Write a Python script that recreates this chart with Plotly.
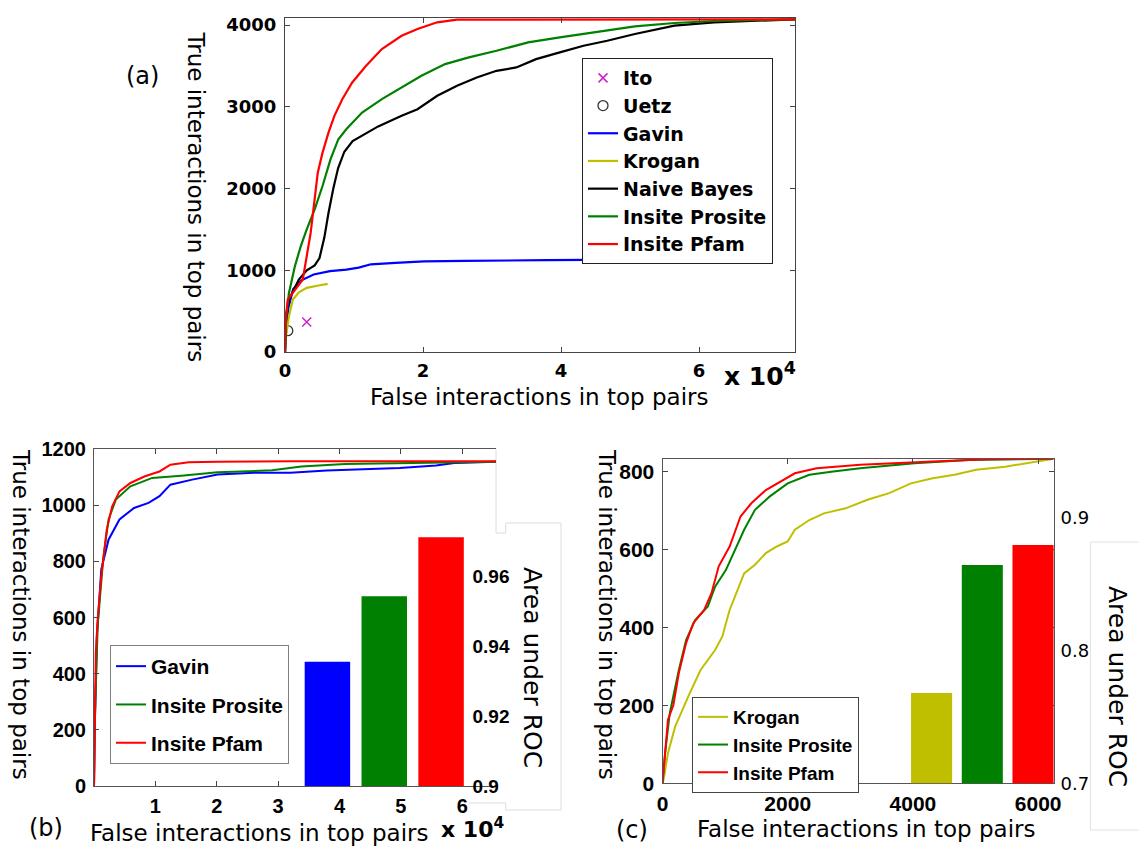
import plotly.graph_objects as go

W, H = 1139, 846

# ---------------- data ----------------
# (a) full gold standard: false vs. true interactions among top-ranked pairs
ito_fp, ito_tp = [3150], [368]
uetz_fp, uetz_tp = [400], [261]

gavin_fp = [0, 119, 474, 1185, 2371, 4150, 6520, 8890, 10670, 12450, 16000, 20150,
            26080, 32000, 37930, 43860, 49800, 55730, 58700, 65500]
gavin_tp = [0, 202, 534, 771, 877, 949, 990, 1008, 1032, 1073, 1091, 1109,
            1115, 1115, 1123, 1127, 1132, 1141, 1150, 1155]

krogan_a_fp = [0, 150, 573, 1146, 2005, 3150, 4870, 6190]
krogan_a_tp = [0, 200, 437, 641, 731, 784, 813, 833]

bayes_fp = [0, 172, 573, 2005, 3150, 4300, 5000, 5700, 6300, 7000, 7700, 8600, 9800,
            11500, 13500, 16900, 19200, 22060, 24930, 27790, 30650, 33520, 36380,
            39820, 43260, 46690, 50700, 56430, 62160, 73900]
bayes_tp = [0, 450, 641, 887, 1000, 1060, 1150, 1400, 1700, 2000, 2250, 2450, 2580,
            2660, 2760, 2889, 2970, 3134, 3256, 3358, 3440, 3481, 3583,
            3665, 3747, 3808, 3890, 3992, 4033, 4070]

prosite_a_fp = [0, 172, 573, 1432, 2290, 3150, 4300, 5440, 6590, 7730, 8880, 11170,
                14035, 16900, 19770, 23200, 26640, 30650, 35230, 39820, 44980,
                50700, 56430, 62160, 73900]
prosite_a_tp = [0, 437, 723, 1050, 1295, 1500, 1745, 2031, 2357, 2603, 2725, 2930,
                3093, 3236, 3379, 3522, 3604, 3685, 3787, 3849, 3910,
                3984, 4025, 4049, 4070]

pfam_a_fp = [0, 100, 400, 1430, 2580, 3720, 4300, 4750, 5440, 6300, 7160, 8300, 9740,
             11750, 14035, 16900, 19200, 22060, 24930, 73900]
pfam_a_tp = [0, 400, 641, 764, 887, 1459, 1867, 2194, 2439, 2684, 2889, 3093, 3297,
             3501, 3706, 3869, 3951, 4033, 4065, 4070]

# (b) pairs covered by Gavin
prosite_b_fp = [0, 119, 593, 1482, 2371, 3556, 5930, 9480, 14230, 20150, 29040,
                33790, 40900, 49800, 65500]
prosite_b_tp = [0, 220, 569, 806, 949, 1020, 1067, 1097, 1105, 1117, 1124,
                1138, 1147, 1150, 1155]
pfam_b_fp = [0, 119, 296, 593, 1185, 2075, 2964, 4150, 5930, 8300, 10670, 12450,
             15410, 20150, 32000, 65500]
pfam_b_tp = [0, 237, 474, 593, 747, 913, 996, 1049, 1079, 1103, 1120, 1144,
             1153, 1155, 1156, 1156]

# (c) pairs covered by Krogan
krogan_c_fp = [0, 17, 87, 203, 434, 608, 840, 956, 1072, 1304, 1477, 1651, 1825, 1999,
               2114, 2346, 2578, 2925, 3273, 3620, 3968, 4316, 4664, 5011, 5474,
               5822, 6245]
krogan_c_tp = [0, 9, 77, 146, 231, 291, 342, 377, 445, 539, 561, 591, 608, 621,
               651, 676, 693, 706, 728, 745, 770, 783, 792, 805, 813,
               822, 833]
prosite_c_fp = [0, 41, 116, 261, 377, 521, 724, 840, 1014, 1188, 1304, 1477, 1709,
                1999, 2346, 2694, 3157, 4026, 4895, 6245]
prosite_c_tp = [0, 77, 180, 291, 368, 419, 454, 505, 548, 608, 651, 702, 736,
                770, 792, 800, 809, 822, 830, 833]
pfam_c_fp = [0, 41, 87, 174, 261, 377, 492, 666, 782, 898, 1072, 1246, 1419, 1651,
             1883, 2114, 2462, 3157, 4316, 5185, 6245]
pfam_c_tp = [0, 77, 163, 201, 283, 360, 411, 445, 488, 557, 608, 685, 719, 753,
             775, 796, 809, 818, 826, 832, 833]

# area under ROC
auc_b_names = ["Gavin", "Insite Prosite", "Insite Pfam"]
auc_b = [0.9355, 0.9542, 0.9711]
auc_c_names = ["Krogan", "Insite Prosite", "Insite Pfam"]
auc_c = [0.768, 0.8645, 0.8796]

# tick labels
ticks_a_x = [0, 20000, 40000, 60000]
ticks_a_xtext = ["0", "2", "4", "6"]
ticks_a_y = [0, 1000, 2000, 3000, 4000]
ticks_b_x = [10000, 20000, 30000, 40000, 50000, 60000]
ticks_b_xtext = ["1", "2", "3", "4", "5", "6"]
ticks_b_y = [0, 200, 400, 600, 800, 1000, 1200]
ticks_c_x = [0, 2000, 4000, 6000]
ticks_c_y = [0, 200, 400, 600, 800]
ticks_b_auc = [0.9, 0.92, 0.94, 0.96]
ticks_c_auc = [0.7, 0.8, 0.9]

# ---------------- styling ----------------
BLUE, YELLOW, GREEN, RED, BLACK = "#0000ff", "#bfbf00", "#008000", "#ff0000", "#000000"
MAGENTA = "#cc22cc"
SANS = "DejaVu Sans"
ARIAL = "Liberation Sans"


def px(x):
    return x / W


def py(y):
    return 1 - y / H


fig = go.Figure()


def curve(x, y, name, color, xa, ya, legend, width=2):
    fig.add_trace(go.Scatter(x=x, y=y, mode="lines", name=name,
                             line=dict(color=color, width=width),
                             xaxis=xa, yaxis=ya, legend=legend,
                             legendgroup=legend + name))


# panel (a)
fig.add_trace(go.Scatter(x=ito_fp, y=ito_tp, mode="markers", name="Ito",
                         marker=dict(symbol="x-thin", size=9, line=dict(color=MAGENTA, width=1.5)),
                         xaxis="x", yaxis="y", legend="legend"))
fig.add_trace(go.Scatter(x=uetz_fp, y=uetz_tp, mode="markers", name="Uetz",
                         marker=dict(symbol="circle-open", size=10, color="#333333",
                                     line=dict(width=1.3)),
                         xaxis="x", yaxis="y", legend="legend"))
curve(gavin_fp, gavin_tp, "Gavin", BLUE, "x", "y", "legend", 2.2)
curve(krogan_a_fp, krogan_a_tp, "Krogan", YELLOW, "x", "y", "legend", 2.2)
curve(bayes_fp, bayes_tp, "Naive Bayes", BLACK, "x", "y", "legend", 2.2)
curve(prosite_a_fp, prosite_a_tp, "Insite Prosite", GREEN, "x", "y", "legend", 2.2)
curve(pfam_a_fp, pfam_a_tp, "Insite Pfam", RED, "x", "y", "legend", 2.2)

# panel (b)
curve(gavin_fp, gavin_tp, "Gavin", BLUE, "x2", "y2", "legend2")
curve(prosite_b_fp, prosite_b_tp, "Insite Prosite", GREEN, "x2", "y2", "legend2")
curve(pfam_b_fp, pfam_b_tp, "Insite Pfam", RED, "x2", "y2", "legend2")

# panel (c)
curve(krogan_c_fp, krogan_c_tp, "Krogan", YELLOW, "x3", "y3", "legend3")
curve(prosite_c_fp, prosite_c_tp, "Insite Prosite", GREEN, "x3", "y3", "legend3")
curve(pfam_c_fp, pfam_c_tp, "Insite Pfam", RED, "x3", "y3", "legend3")

# AUC bar insets
fig.add_trace(go.Bar(x=[0, 1, 2], y=auc_b, width=0.8, hovertext=auc_b_names,
                     marker=dict(color=[BLUE, GREEN, RED], line=dict(width=0)),
                     xaxis="x4", yaxis="y4", showlegend=False))
fig.add_trace(go.Bar(x=[0, 1, 2], y=auc_c, width=0.81, hovertext=auc_c_names,
                     marker=dict(color=[YELLOW, GREEN, RED], line=dict(width=0)),
                     xaxis="x5", yaxis="y5", showlegend=False))

AX = dict(showgrid=False, zeroline=False, showline=True, linewidth=1,
          ticks="inside", ticklen=5, tickwidth=1, tickcolor="#444444")

dom_a_x = [px(285), px(795)]
dom_a_y = [py(352), py(18)]
dom_b_x = [px(94), px(496)]
dom_b_y = [py(786), py(449)]
dom_c_x = [px(662.5), px(1053.5)]
dom_c_y = [py(783.3), py(458.7)]

tick_a = dict(family=SANS, size=18, color="black", weight="bold")
tick_b = dict(family=ARIAL, size=20, color="black", weight="bold")
tick_c = dict(family=ARIAL, size=21, color="black", weight="bold")

fig.update_layout(
    width=W, height=H, margin=dict(l=0, r=0, t=0, b=0, pad=0, autoexpand=False),
    paper_bgcolor="white", plot_bgcolor="rgba(0,0,0,0)",
    showlegend=True,
    xaxis=dict(AX, domain=dom_a_x, range=[0, 73900], anchor="y", mirror="ticks",
               linecolor="#444444", tickvals=ticks_a_x, ticktext=ticks_a_xtext,
               tickfont=tick_a, ticklabelstandoff=2),
    yaxis=dict(AX, domain=dom_a_y, range=[0, 4086], anchor="x", mirror="ticks",
               linecolor="#444444", tickvals=ticks_a_y, tickfont=tick_a,
               ticklabelstandoff=4),
    xaxis2=dict(AX, domain=dom_b_x, range=[0, 65500], anchor="y2", mirror="ticks",
                linecolor="#555555", tickvals=ticks_b_x, ticktext=ticks_b_xtext,
                tickfont=tick_b, ticklabelstandoff=2),
    yaxis2=dict(AX, domain=dom_b_y, range=[0, 1200], anchor="x2", mirror=False,
                linecolor="#555555", tickvals=ticks_b_y, tickfont=tick_b,
                ticklabelstandoff=3),
    xaxis3=dict(AX, domain=dom_c_x, range=[0, 6245], anchor="y3", mirror="ticks",
                linecolor="#555555", tickvals=ticks_c_x, tickfont=tick_c,
                ticklabelstandoff=1),
    yaxis3=dict(AX, domain=dom_c_y, range=[0, 833.4], anchor="x3", mirror="ticks",
                linecolor="#555555", tickvals=ticks_c_y, tickfont=tick_c,
                ticklabelstandoff=3),
    xaxis4=dict(domain=[px(299), px(469.5)], range=[-0.5, 2.5], anchor="y4",
                visible=False, fixedrange=True),
    yaxis4=dict(domain=dom_b_y, range=[0.9, 0.9963], anchor="free", position=px(469.5),
                side="right", showgrid=False, zeroline=False, showline=False, ticks="",
                tickvals=ticks_b_auc, ticktext=["0.9", "0.92", "0.94", "0.96"],
                tickfont=dict(family=ARIAL, size=19, color="black", weight="bold"),
                ticklabelstandoff=2),
    xaxis5=dict(domain=[px(906.25), px(1058.35)], range=[-0.5, 2.5], anchor="y5",
                visible=False, fixedrange=True),
    yaxis5=dict(domain=dom_c_y, range=[0.7, 0.9446], anchor="free", position=px(1053.5),
                side="right", showgrid=False, zeroline=False, showline=False, ticks="",
                tickvals=ticks_c_auc, ticktext=["0.7", "0.8", "0.9"],
                tickfont=dict(family=SANS, size=18, color="black"),
                ticklabelstandoff=6),
    legend=dict(x=px(582), y=py(58), xanchor="left", yanchor="top",
                bgcolor="white", bordercolor="#222222", borderwidth=1,
                font=dict(family=SANS, size=19, color="black", weight="bold"),
                itemwidth=30, tracegroupgap=0),
    legend2=dict(x=px(110), y=py(645), xanchor="left", yanchor="top",
                 bgcolor="white", bordercolor="#808080", borderwidth=1,
                 font=dict(family=ARIAL, size=21, color="black", weight="bold"),
                 itemwidth=30, traceorder="grouped", tracegroupgap=8),
    legend3=dict(x=px(692), y=py(697), xanchor="left", yanchor="top",
                 bgcolor="white", bordercolor="#444444", borderwidth=1,
                 font=dict(family=ARIAL, size=19, color="black", weight="bold"),
                 itemwidth=30, traceorder="grouped", tracegroupgap=0),
)

# frames around the AUC insets and the open right edge of panel (b)
frame_b = (f"M {px(496)},{py(449)} L {px(496)},{py(533)} L {px(505.7)},{py(533)} "
           f"L {px(505.7)},{py(523)} L {px(561)},{py(523)} L {px(561)},{py(810)} "
           f"L {px(505.7)},{py(810)} L {px(505.7)},{py(803)} L {px(469)},{py(803)}")
fig.add_shape(type="path", path=frame_b, xref="paper", yref="paper",
              line=dict(color="#dcdcdc", width=1), layer="below")
fig.add_shape(type="rect", xref="paper", yref="paper",
              x0=px(1090.5), x1=px(1150), y0=py(830), y1=py(542),
              line=dict(color="#e2e2e2", width=1), fillcolor="white", layer="below")


def label(x, y, text, size, angle=0, family=SANS, bold=False):
    fig.add_annotation(x=px(x), y=py(y), xref="paper", yref="paper", text=text,
                       showarrow=False, textangle=angle, xanchor="center",
                       yanchor="middle",
                       font=dict(family=family, size=size, color="black",
                                 weight="bold" if bold else "normal"))


YT = "True interactions in top pairs"
XT = "False interactions in top pairs"

label(196, 196.5, YT, 23, 90)
label(539, 397, XT, 23)
label(142, 76, "(a)", 24)
label(760, 375, "x 10<sup>4</sup>", 25, bold=True)

label(21, 614, YT, 23, 90)
label(259, 833, XT, 23)
label(46, 828, "(b)", 24)
label(472, 828, "x 10<sup>4</sup>", 22, bold=True)
label(533, 667, "Area under ROC", 25, 90)

label(607, 614, YT, 23, 90)
label(866, 829, XT, 23)
label(632, 830, "(c)", 24)
label(1118, 686, "Area under ROC", 25, 90)

fig.write_html("out.html")
